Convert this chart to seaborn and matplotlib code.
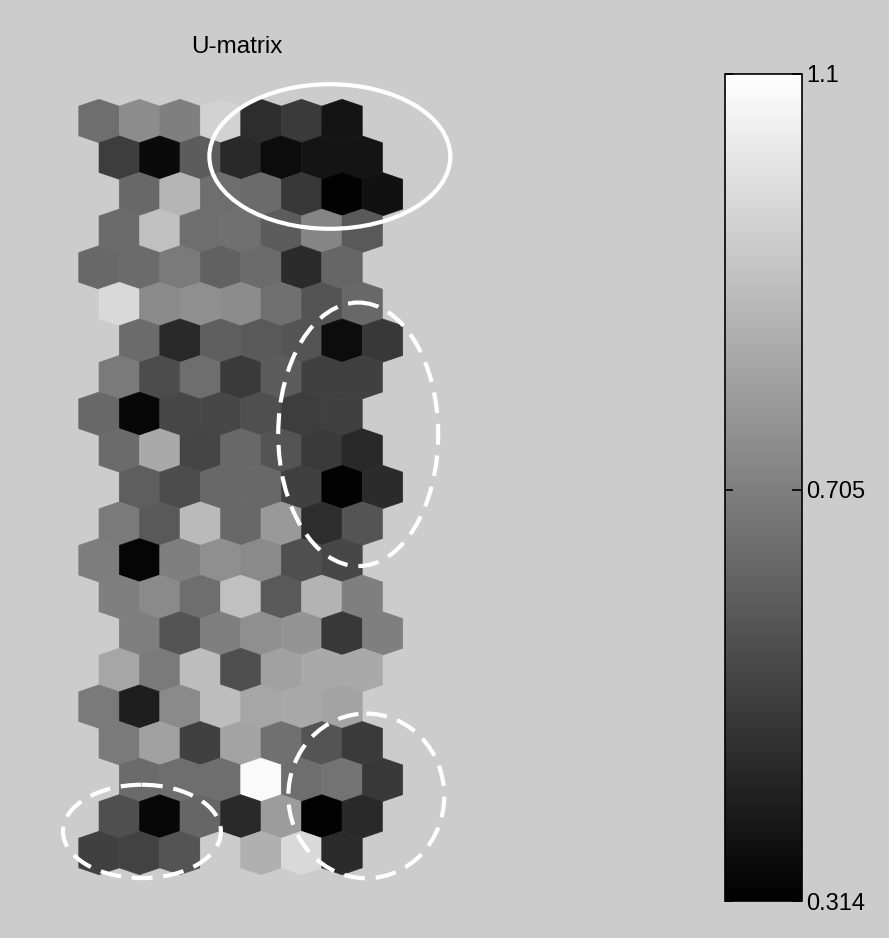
import numpy as np
import matplotlib
matplotlib.use("Agg")
import matplotlib.pyplot as plt
from matplotlib.collections import PolyCollection
from matplotlib.patches import Ellipse
from matplotlib.colors import Normalize
import seaborn as sns

# ---------------- data ----------------
title_text = "U-matrix"
value_min, value_max = 0.314, 1.1
cbar_ticks = [0.314, 0.705, 1.1]
cbar_labels = ["0.314", "0.705", "1.1"]

# U-matrix values, 21 rows x 7 cells (top row first)
u_matrix = [
    [0.652, 0.746, 0.707, 0.959, 0.455, 0.495, 0.377],
    [0.503, 0.345, 0.597, 0.440, 0.353, 0.377, 0.377],
    [0.636, 0.872, 0.652, 0.644, 0.487, 0.322, 0.369],
    [0.644, 0.904, 0.652, 0.660, 0.597, 0.723, 0.589],
    [0.636, 0.644, 0.691, 0.613, 0.644, 0.448, 0.628],
    [0.982, 0.738, 0.754, 0.746, 0.660, 0.573, 0.636],
    [0.644, 0.440, 0.605, 0.589, 0.573, 0.353, 0.487],
    [0.691, 0.550, 0.652, 0.495, 0.597, 0.511, 0.511],
    [0.636, 0.338, 0.534, 0.534, 0.558, 0.503, 0.511],
    [0.644, 0.833, 0.526, 0.636, 0.573, 0.495, 0.440],
    [0.605, 0.550, 0.636, 0.636, 0.511, 0.322, 0.448],
    [0.691, 0.589, 0.888, 0.636, 0.786, 0.455, 0.573],
    [0.699, 0.330, 0.707, 0.754, 0.738, 0.558, 0.534],
    [0.707, 0.738, 0.652, 0.904, 0.589, 0.864, 0.707],
    [0.707, 0.573, 0.707, 0.754, 0.770, 0.487, 0.707],
    [0.825, 0.691, 0.896, 0.558, 0.809, 0.833, 0.833],
    [0.691, 0.408, 0.738, 0.896, 0.825, 0.833, 0.817],
    [0.691, 0.809, 0.511, 0.817, 0.660, 0.573, 0.495],
    [0.644, 0.652, 0.652, 1.084, 0.652, 0.668, 0.487],
    [0.558, 0.338, 0.628, 0.440, 0.793, 0.322, 0.440],
    [0.511, 0.518, 0.573, 0.943, 0.856, 0.982, 0.448],
]

# highlight ellipses (annotation): centre col, centre row, width (cols), height (rows), dashed?
highlight_cols = [5.7, 6.4, 1.06, 6.6]
highlight_rows = [0.97, 8.56, 19.41, 18.44]
highlight_w = [5.95, 3.95, 3.9, 3.85]
highlight_h = [3.95, 7.2, 2.55, 4.5]
highlight_dashed = [False, True, True, True]

# ---------------- style ----------------
sns.set_theme(style="white")
plt.rcParams["font.family"] = ["Liberation Sans", "DejaVu Sans"]

BG = "#cccccc"
W, H = 889, 938
fig = plt.figure(figsize=(W / 100, H / 100), dpi=100, facecolor=BG)

# map axes geometry (pixels)
x0_px, dx_px = 99.0, 40.5
y0_px, dy_px = 121.0, 36.6
xlim = (-1.0, 8.0)
ylim = (21.0, -1.0)
left_px = x0_px + xlim[0] * dx_px
right_px = x0_px + xlim[1] * dx_px
top_px = y0_px + ylim[1] * dy_px
bot_px = y0_px + ylim[0] * dy_px
ax = fig.add_axes([left_px / W, 1 - bot_px / H,
                   (right_px - left_px) / W, (bot_px - top_px) / H])
ax.set_xlim(*xlim)
ax.set_ylim(*ylim)
ax.axis("off")
ax.patch.set_alpha(0)

cmap = sns.color_palette("gray", as_cmap=True)
norm = Normalize(value_min, value_max)

hx, hy_top, hy_sh = 0.5, 0.594, 0.406
shape = np.array([[0, -hy_top], [hx, -hy_sh], [hx, hy_sh],
                  [0, hy_top], [-hx, hy_sh], [-hx, -hy_sh]])
verts, vals = [], []
for r, row in enumerate(u_matrix):
    off = 0.0 if r % 4 == 0 else (1.0 if r % 4 == 2 else 0.5)
    for c, v in enumerate(row):
        verts.append(shape + np.array([c + off, r]))
        vals.append(v)
pc = PolyCollection(verts, array=np.array(vals), cmap=cmap, norm=norm,
                    edgecolors="face", linewidths=0.4)
ax.add_collection(pc)

for cx, cy, ew, eh, dashed in zip(highlight_cols, highlight_rows, highlight_w,
                                  highlight_h, highlight_dashed):
    e = Ellipse((cx, cy), ew, eh, fill=False, edgecolor="white", linewidth=3.0,
                linestyle=(0, (5.0, 2.6)) if dashed else "-", zorder=5,
                clip_on=False)
    ax.add_patch(e)

# title
fig.text(237 / W, 1 - 47 / H, title_text, ha="center", va="center",
         fontsize=17.5, color="black")

# colorbar
cax = fig.add_axes([725 / W, 1 - 901 / H, 77 / W, 827 / H])
cb = fig.colorbar(pc, cax=cax, ticks=cbar_ticks)
cb.set_ticklabels(cbar_labels)
cb.minorticks_off()
cb.outline.set_edgecolor("black")
cb.outline.set_linewidth(1.2)
cax.tick_params(axis="y", which="major", left=False, right=True, length=0,
                labelsize=17, pad=3, colors="black")
# inward tick marks on both sides of the bar
for t in cbar_ticks:
    cax.plot([0.0, 0.11], [t, t], color="black", lw=1.2, zorder=10,
             clip_on=False, solid_capstyle="butt")
    cax.plot([0.87, 1.0], [t, t], color="black", lw=1.2, zorder=10,
             clip_on=False, solid_capstyle="butt")
cax.set_xlim(0, 1)
cax.set_ylim(value_min, value_max)

fig.savefig("out.png", dpi=100, facecolor=BG)
